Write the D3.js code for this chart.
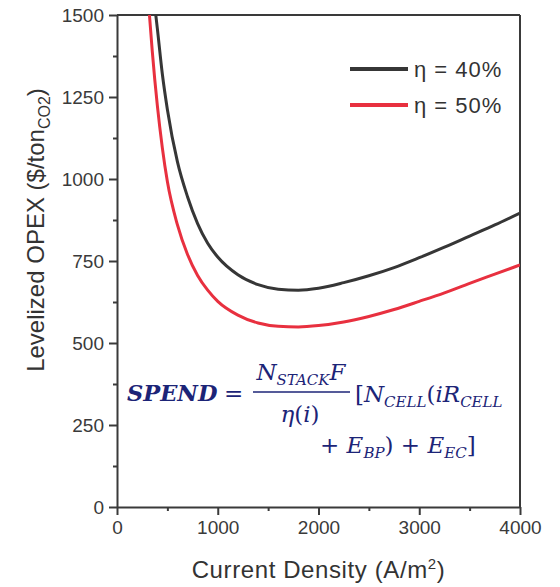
<!DOCTYPE html>
<html>
<head>
<meta charset="utf-8">
<script src="https://cdn.jsdelivr.net/npm/d3@7"></script>
<style>
  body { margin: 0; background: #fff; }
  .tick text { font-family: "Liberation Sans", Arial, sans-serif; font-size: 19px; fill: #3a3a3a; }
  .axis-title { font-family: "Liberation Sans", Arial, sans-serif; font-size: 24px; fill: #333; }
  .eq { font-family: "DejaVu Serif", "Liberation Serif", serif; fill: #1c2477; }
</style>
</head>
<body>
<div id="chart"></div>
<script>
// Data
var currentDensity40 = [385, 400, 450, 500, 600, 700, 800, 900, 1000, 1200, 1400, 1600, 1800, 2000, 2250, 2500, 2750, 3000, 3250, 3500, 3750, 4000];
var opex40 = [1500, 1460, 1320, 1212, 1052, 946, 864, 804, 762, 708, 678, 664, 661, 667, 684, 705, 730, 760, 792, 826, 860, 896];
var currentDensity50 = [322, 350, 400, 450, 500, 600, 700, 800, 900, 1000, 1200, 1400, 1600, 1800, 2000, 2250, 2500, 2750, 3000, 3250, 3500, 3750, 4000];
var opex50 = [1500, 1390, 1225, 1095, 992, 860, 770, 706, 661, 627, 585, 561, 551, 549, 553, 564, 581, 602, 627, 653, 682, 710, 738];
var seriesNames = ["\u03b7 = 40%", "\u03b7 = 50%"];
var seriesColors = ["#363636", "#e8303f"];
var xTicks = [0, 1000, 2000, 3000, 4000];
var xMinorTicks = [500, 1500, 2500, 3500];
var yTicks = [0, 250, 500, 750, 1000, 1250, 1500];
var yMinorTicks = [125, 375, 625, 875, 1125, 1375];

// SVG canvas
var svgWidth = 560;
var svgHeight = 587;
var margin = { top: 15, right: 40, bottom: 80, left: 117 };
var chartWidth = svgWidth - margin.left - margin.right;
var chartHeight = svgHeight - margin.top - margin.bottom;

var svg = d3.select("#chart").append("svg")
    .attr("width", svgWidth)
    .attr("height", svgHeight);

var chartGroup = svg.append("g")
    .attr("transform", `translate(${margin.left}, ${margin.top})`);

// scales
var xScale = d3.scaleLinear().domain([0, 4000]).range([0, chartWidth]);
var yScale = d3.scaleLinear().domain([0, 1500]).range([chartHeight, 0]);

// clip for the curves
svg.append("defs").append("clipPath").attr("id", "plotClip")
    .append("rect").attr("width", chartWidth).attr("height", chartHeight);

// minor ticks
chartGroup.append("g")
    .attr("transform", `translate(0, ${chartHeight})`)
    .call(d3.axisBottom(xScale).tickValues(xMinorTicks).tickSize(4).tickFormat(""))
    .call(g => g.select(".domain").remove());
chartGroup.append("g")
    .call(d3.axisLeft(yScale).tickValues(yMinorTicks).tickSize(4).tickFormat(""))
    .call(g => g.select(".domain").remove());

// major axes
chartGroup.append("g")
    .attr("transform", `translate(0, ${chartHeight})`)
    .call(d3.axisBottom(xScale).tickValues(xTicks).tickSize(8).tickPadding(6).tickSizeOuter(0).tickFormat(d3.format("d")));
chartGroup.append("g")
    .call(d3.axisLeft(yScale).tickValues(yTicks).tickSize(8).tickPadding(5).tickSizeOuter(0).tickFormat(d3.format("d")));

chartGroup.selectAll(".domain, .tick line")
    .attr("stroke", "#3a3a3a")
    .attr("stroke-width", 2);

// top and right frame
chartGroup.append("line")
    .attr("x1", 0).attr("x2", chartWidth).attr("y1", 0).attr("y2", 0)
    .attr("stroke", "#3a3a3a").attr("stroke-width", 2);
chartGroup.append("line")
    .attr("x1", chartWidth).attr("x2", chartWidth).attr("y1", 0).attr("y2", chartHeight)
    .attr("stroke", "#3a3a3a").attr("stroke-width", 2);

// curves
var line = d3.line()
    .x(d => xScale(d[0]))
    .y(d => yScale(d[1]))
    .curve(d3.curveMonotoneX);

var series = [
    d3.zip(currentDensity40, opex40),
    d3.zip(currentDensity50, opex50)
];

chartGroup.append("g").attr("clip-path", "url(#plotClip)")
    .selectAll("path")
    .data(series)
    .enter()
    .append("path")
    .attr("d", line)
    .attr("fill", "none")
    .attr("stroke", (d, i) => seriesColors[i])
    .attr("stroke-width", 3);

// legend
var legend = chartGroup.selectAll(".legend")
    .data(seriesNames)
    .enter()
    .append("g")
    .attr("transform", (d, i) => `translate(${chartWidth - 170}, ${54 + i * 36})`);
legend.append("line")
    .attr("x1", 0).attr("x2", 58)
    .attr("stroke", (d, i) => seriesColors[i])
    .attr("stroke-width", 4);
legend.append("text")
    .attr("x", 64)
    .attr("y", 8)
    .style("font-family", "Liberation Sans, Arial, sans-serif")
    .style("font-size", "22px")
    .style("letter-spacing", "1px")
    .style("fill", "#333")
    .text(d => d);

// axis titles
svg.append("text")
    .attr("class", "axis-title")
    .attr("text-anchor", "middle")
    .style("letter-spacing", "0.6px")
    .attr("x", margin.left + chartWidth / 2)
    .attr("y", 578)
    .html('Current Density (A/m<tspan dy="-9" font-size="15">2</tspan><tspan dy="9">)</tspan>');

svg.append("text")
    .attr("class", "axis-title")
    .attr("text-anchor", "middle")
    .attr("transform", "translate(44, 230) rotate(-90)")
    .html('Levelized OPEX ($/ton<tspan dy="6" font-size="16">CO2</tspan><tspan dy="-6">)</tspan>');

// equation annotation
var eq = svg.append("g").attr("class", "eq");
eq.append("text")
    .attr("x", 127).attr("y", 401)
    .style("font-size", "22.5px")
    .style("font-weight", "bold")
    .style("font-style", "italic")
    .text("SPEND");
eq.append("text")
    .attr("x", 224).attr("y", 401)
    .style("font-size", "23px")
    .text("=");
eq.append("text")
    .attr("x", 301).attr("y", 380).attr("text-anchor", "middle")
    .style("font-size", "23px")
    .html('<tspan font-style="italic">N</tspan><tspan font-style="italic" font-size="15" dy="5">STACK</tspan><tspan font-style="italic" dy="-5">F</tspan>');
eq.append("line")
    .attr("x1", 253).attr("x2", 350).attr("y1", 392).attr("y2", 392)
    .attr("stroke", "#1c2477").attr("stroke-width", 1.5);
eq.append("text")
    .attr("x", 300).attr("y", 422).attr("text-anchor", "middle")
    .style("font-size", "23px")
    .html('<tspan font-style="italic">\u03b7</tspan>(<tspan font-style="italic">i</tspan>)');
eq.append("text")
    .attr("x", 355).attr("y", 402)
    .style("font-size", "23px")
    .html('[<tspan font-style="italic">N</tspan><tspan font-style="italic" font-size="15" dy="5">CELL</tspan><tspan dy="-5">(</tspan><tspan font-style="italic">iR</tspan><tspan font-style="italic" font-size="15" dy="5">CELL</tspan>');
eq.append("text")
    .attr("x", 320).attr("y", 453)
    .style("font-size", "23px")
    .html('+ <tspan font-style="italic">E</tspan><tspan font-style="italic" font-size="15" dy="5">BP</tspan><tspan dy="-5">) + </tspan><tspan font-style="italic">E</tspan><tspan font-style="italic" font-size="15" dy="5">EC</tspan><tspan dy="-5">]</tspan>');
</script>
</body>
</html>
